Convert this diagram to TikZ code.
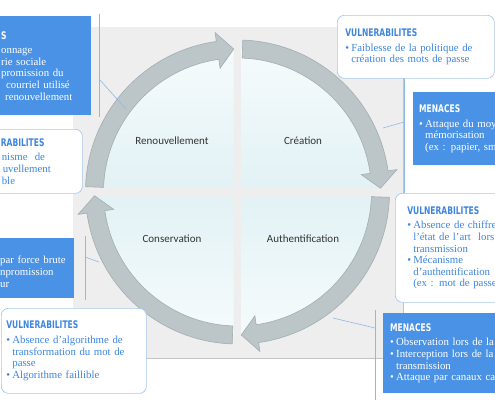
\documentclass[tikz,border=0pt]{standalone}
\usepackage{fontspec}
\setmainfont{Liberation Serif}
\newfontfamily\headfont[FakeStretch=0.72]{DejaVu Sans}
\newfontfamily\quadfont{Carlito}
\definecolor{boxblue}{HTML}{4A92E6}
\definecolor{txtblue}{HTML}{3D86DF}
\definecolor{boxline}{HTML}{A6C8EE}
\definecolor{linkblue}{HTML}{8FB8E6}
\definecolor{bggray}{HTML}{EEEEEE}
\definecolor{bgedge}{HTML}{C4C4C4}
\definecolor{ringgray}{HTML}{BCC6C8}
\definecolor{ringedge}{HTML}{A3AEB1}
\definecolor{quadtop}{HTML}{F6FBFC}
\definecolor{quadbot}{HTML}{E2F2F5}
\newcommand{\itm}{\makebox[6pt][l]{\textbullet}}
\newcommand{\cnt}{\hspace*{6pt}}
\newcommand{\hd}[1]{{\headfont\bfseries\fontsize{10.5}{11.6}\selectfont #1}\\[3pt]}

\begin{document}
\begin{tikzpicture}[x=1pt,y=-1pt,
  bbox/.style={fill=boxblue,text=white,anchor=north west,align=left,inner ysep=0pt,
               font=\fontsize{10.8}{11.6}\selectfont},
  wbox/.style={fill=white,draw=boxline,line width=0.7pt,rounded corners=7pt,text=txtblue,
               anchor=north west,align=left,inner ysep=0pt,font=\fontsize{10.8}{11.6}\selectfont},
  quad/.style={font=\quadfont\fontsize{11}{13}\selectfont,text=black!80},
  link/.style={draw=linkblue,line width=0.6pt},
  ringarrow/.style={fill=ringgray,draw=ringedge,line width=0.6pt}]
\useasboundingbox (0,0) rectangle (495,400);
\clip (0,0) rectangle (495,400);
% background
\fill[bggray] (73,27) rectangle (403,358);
\draw[bgedge] (73,358) -- (403,358) -- (403,27);
% cycle
\begin{scope}[shift={(237.5,192)},y=1pt]
  \shade[top color=quadtop,bottom color=quadbot] (-4,4.5) -- ++(-140,0) arc[start angle=180,end angle=90,radius=140] -- cycle;
  \shade[top color=quadtop,bottom color=quadbot] (4,4.5) -- ++(0,140) arc[start angle=90,end angle=0,radius=140] -- cycle;
  \shade[top color=quadbot,bottom color=quadtop] (4,-4.5) -- ++(140,0) arc[start angle=0,end angle=-90,radius=140] -- cycle;
  \shade[top color=quadbot,bottom color=quadtop] (-4,-4.5) -- ++(0,-140) arc[start angle=-90,end angle=-180,radius=140] -- cycle;
  \foreach \s in {178,88,-2,-92} {
    \pgfmathsetmacro{\e}{\s-86.5}
    \pgfmathsetmacro{\b}{\e+6.5}
    \filldraw[ringarrow] (\s:152) arc[start angle=\s,end angle=\b,radius=152] -- (\b:161)
      -- (\e:143) -- (\b:125) -- (\b:134) arc[start angle=\b,end angle=\s,radius=134] -- cycle;
  }
\end{scope}
\node[quad] (renouv) at (172,141) {Renouvellement};
\node[quad] (creat) at (303,141) {Création};
\node[quad] (conserv) at (172,239) {Conservation};
\node[quad] (authent) at (303,239) {Authentification};
% links
\coordinate (l1a) at (99,14);   \coordinate (l1b) at (99,117);
\coordinate (l1c) at (99,79);   \coordinate (l1d) at (126,109);
\coordinate (l2a) at (85,236);  \coordinate (l2b) at (85,300);
\coordinate (l2c) at (85,257);  \coordinate (l2d) at (99,262);
\coordinate (r1a) at (404,78);  \coordinate (r1b) at (404,195);
\coordinate (r1c) at (404,122); \coordinate (r1d) at (383,128);
\coordinate (r2a) at (375,310); \coordinate (r2b) at (375,400);
\coordinate (r2c) at (375,328); \coordinate (r2d) at (333,318);
\foreach \p in {l1,l2,r1,r2} {
  \draw[link] (\p a) -- (\p b);
  \draw[link] (\p c) -- (\p d);
}
% left boxes
\node[bbox,minimum width=101,minimum height=99,inner xsep=11,text width=79] (menRen) at (-10,16)
  {\hd{S}onnage\\rie sociale\\promission du\\\hspace*{5pt}courriel utilisé\\\hspace*{4pt}renouvellement};
\node[wbox,minimum width=92,minimum height=64,inner xsep=10.5,text width=71] (vulRen) at (-10,129)
  {\hd{RABILITES}\hspace*{1pt}nisme~ de\\\hspace*{2pt}uvellement\\\hspace*{1pt}ble};
\node[bbox,minimum width=82,minimum height=60,inner xsep=8,text width=66] (menCon) at (-8,238)
  {\mbox{}\\[3pt]par force brute\\npromission\\ur};
\node[wbox,minimum width=145,minimum height=85,inner xsep=5,text width=135] (vulCon) at (1,308)
  {\hd{VULNERABILITES}\itm Absence d’algorithme de\\\cnt transformation du mot de\\\cnt passe\\\itm Algorithme faillible};
% right boxes
\node[wbox,minimum width=157,minimum height=63,inner xsep=8,text width=141] (vulCre) at (337,15)
  {\hd{VULNERABILITES}\itm Faiblesse de la politique de\\\cnt création des mots de passe};
\node[bbox,minimum width=127,minimum height=73,inner xsep=6,text width=115] (menCre) at (413,92)
  {\hd{MENACES}\itm Attaque du moy\\\cnt mémorisation\\\cnt (ex : papier, sma};
\node[wbox,minimum width=145,minimum height=109,inner xsep=12,text width=121] (vulAut) at (395,193)
  {\hd{VULNERABILITES}\itm Absence de chiffre\\\cnt l’état de l’art~ lors\\\cnt transmission\\\itm Mécanisme\\\cnt d’authentification\\\cnt (ex : mot de passe};
\node[bbox,minimum width=157,minimum height=80,inner xsep=7,text width=143] (menAut) at (383,313)
  {\hd{MENACES}\itm Observation lors de la\\\itm Interception lors de la\\\cnt transmission\\\itm Attaque par canaux ca};
\end{tikzpicture}
\end{document}
